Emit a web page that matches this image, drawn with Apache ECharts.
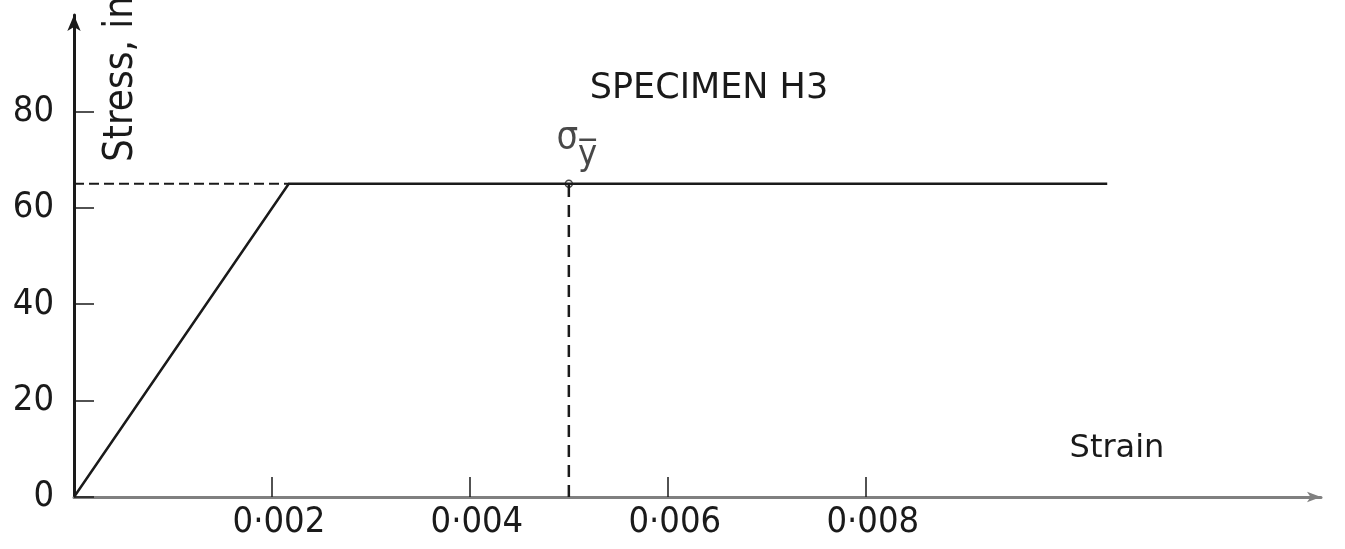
<!DOCTYPE html>
<html lang="en">

<head>
    <meta charset="UTF-8">
    <title>Specimen H3</title>
    <script src="https://cdn.jsdelivr.net/npm/echarts@6/dist/echarts.min.js"></script>
    <style>
        * {
            margin: 0;
            padding: 0
        }

        html,
        body {
            width: 100%;
            height: 100%;
            background: #fff;
        }

        #main {
            width: 1345px;
            height: 549px;
        }
    </style>
</head>

<body>
    <div id="main"></div>
    <script type="text/javascript">
        // strain / stress
        var curveStrain = [0, 0.00217, 0.01044];
        var curveStress = [0, 65, 65];
        var yieldStrain = 0.005;
        var yieldStress = 65;
        var xTicks = [0.002, 0.004, 0.006, 0.008];
        var yTicks = [0, 20, 40, 60, 80];

        var font = "'DejaVu Sans Condensed', 'DejaVu Sans', sans-serif";
        var ink = '#1a1a1a';

        var curve = curveStrain.map(function (s, i) {
            return [s, curveStress[i]];
        });

        var myChart = echarts.init(document.getElementById('main'));
        var option = {
            backgroundColor: '#fff',
            animation: false,
            title: {
                text: 'SPECIMEN H3',
                left: 704,
                top: 66,
                textAlign: 'center',
                textStyle: {
                    fontFamily: "'DejaVu Sans', sans-serif",
                    fontWeight: 'normal',
                    fontSize: 35,
                    color: ink
                }
            },
            grid: {
                left: 74,
                right: 24,
                top: 15,
                bottom: 52
            },
            xAxis: {
                type: 'value',
                min: 0,
                max: 0.0126,
                splitLine: { show: false },
                axisLine: {
                    onZero: false,
                    symbol: ['none', 'arrow'],
                    symbolSize: [8, 14],
                    lineStyle: { color: '#808080', width: 3 }
                },
                axisTick: {
                    inside: true,
                    length: 20,
                    customValues: xTicks,
                    lineStyle: { color: ink, width: 1.5 }
                },
                axisLabel: {
                    customValues: xTicks,
                    margin: 8,
                    padding: [0, 0, 0, 14],
                    fontFamily: font,
                    fontSize: 36,
                    color: ink,
                    formatter: function (v) {
                        return v.toFixed(3).replace('.', '·');
                    }
                }
            },
            yAxis: {
                type: 'value',
                min: 0,
                max: 100,
                splitLine: { show: false },
                axisLine: {
                    onZero: false,
                    symbol: ['none', 'arrow'],
                    symbolSize: [10, 16],
                    lineStyle: { color: ink, width: 3 }
                },
                axisTick: {
                    inside: true,
                    length: 20,
                    customValues: yTicks,
                    lineStyle: { color: ink, width: 1.5 }
                },
                axisLabel: {
                    customValues: yTicks,
                    margin: 20,
                    padding: [0, 0, 28, 0],
                    fontFamily: font,
                    fontSize: 36,
                    color: ink
                }
            },
            graphic: [{
                type: 'text',
                x: 122,
                y: 162,
                rotation: Math.PI / 2,
                style: {
                    text: 'Stress, in',
                    fontFamily: font,
                    fontSize: 40,
                    fill: ink,
                    textAlign: 'left',
                    textVerticalAlign: 'middle'
                }
            }, {
                type: 'text',
                x: 1117,
                y: 449,
                style: {
                    text: 'Strain',
                    fontFamily: "'DejaVu Sans', sans-serif",
                    fontSize: 32,
                    fill: ink,
                    textAlign: 'center',
                    textVerticalAlign: 'middle'
                }
            }],
            series: [{
                name: 'curve',
                type: 'line',
                data: curve,
                symbol: 'none',
                lineStyle: { color: ink, width: 2.5 }
            }, {
                name: 'yield level',
                type: 'line',
                data: [[0, yieldStress], [curveStrain[1], yieldStress]],
                symbol: 'none',
                lineStyle: { color: ink, width: 2, type: [10, 5] }
            }, {
                name: 'yield strain',
                type: 'line',
                data: [[yieldStrain, 0], [yieldStrain, yieldStress]],
                symbol: 'none',
                lineStyle: { color: ink, width: 2.5, type: [12, 8] }
            }, {
                name: 'yield point',
                type: 'scatter',
                data: [[yieldStrain, yieldStress]],
                symbol: 'circle',
                symbolSize: 7,
                itemStyle: { color: '#fff', borderColor: ink, borderWidth: 1.5 },
                label: {
                    show: true,
                    position: 'top',
                    distance: 6,
                    offset: [8, 0],
                    formatter: '{s|σ}{y|y\u0305}',
                    rich: {
                        s: {
                            fontFamily: font,
                            fontSize: 38,
                            color: ink,
                            verticalAlign: 'top',
                            padding: [0, 0, 16, 0]
                        },
                        y: {
                            fontFamily: font,
                            fontSize: 36,
                            color: ink,
                            verticalAlign: 'bottom'
                        }
                    }
                }
            }]
        };
        myChart.setOption(option);
    </script>
</body>

</html>
